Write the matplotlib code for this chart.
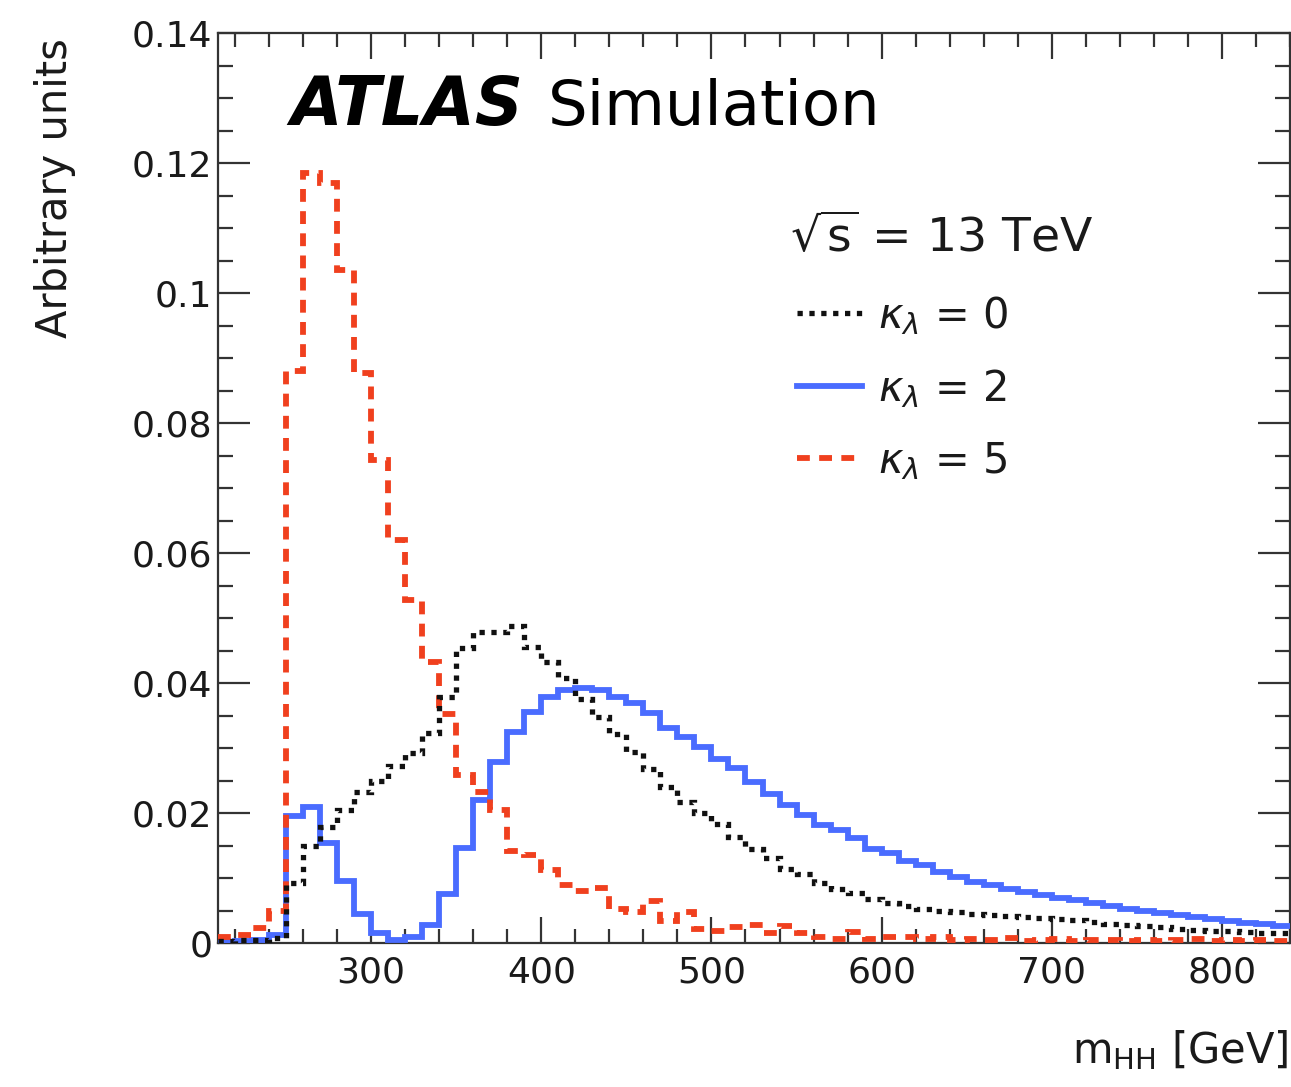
import numpy as np
import matplotlib
matplotlib.use("Agg")
import matplotlib.pyplot as plt
from matplotlib.lines import Line2D
from matplotlib.ticker import MultipleLocator, FuncFormatter

plt.rcParams['font.family'] = ['DejaVu Sans']
plt.rcParams['mathtext.fontset'] = 'dejavusans'

# ---- data: m_HH histograms, 10 GeV bins from 210 to 840 GeV ----
bin_edges = np.arange(210, 850, 10)

kappa0 = [0.0003, 0.0004, 0.0005, 0.0008,
          0.0092, 0.0150, 0.0179, 0.0205, 0.0232, 0.0250, 0.0272, 0.0292, 0.0323, 0.0379,
          0.0454, 0.0479, 0.0479, 0.0487, 0.0456, 0.0433, 0.0408, 0.0376, 0.0347, 0.0322,
          0.0294, 0.0267, 0.0240, 0.0217, 0.0200,
          0.0183, 0.0163, 0.0145, 0.0131, 0.0114, 0.0106, 0.0093, 0.0083, 0.0077, 0.0068,
          0.0062, 0.0057, 0.0052, 0.0049, 0.0047,
          0.0045, 0.0043, 0.0042, 0.0040, 0.0039, 0.0037, 0.0035, 0.0032, 0.0030, 0.0028,
          0.0026, 0.0024, 0.0022, 0.0020, 0.0019, 0.0018, 0.0017, 0.0016, 0.0015]

kappa2 = [0.0002, 0.0003, 0.0005, 0.0012,
          0.0195, 0.0210, 0.0154, 0.0095, 0.0045, 0.0016, 0.0004, 0.0009, 0.0027, 0.0075,
          0.0146, 0.0220, 0.0279, 0.0325, 0.0356, 0.0379, 0.0389, 0.0392, 0.0389, 0.0379,
          0.0369, 0.0354, 0.0331, 0.0317, 0.0302,
          0.0283, 0.0269, 0.0247, 0.0229, 0.0212, 0.0197, 0.0182, 0.0174, 0.0161, 0.0144,
          0.0138, 0.0126, 0.0120, 0.0109, 0.0101,
          0.0094, 0.0089, 0.0083, 0.0078, 0.0074, 0.0070, 0.0066, 0.0061, 0.0057, 0.0053,
          0.0049, 0.0046, 0.0043, 0.0040, 0.0037, 0.0034, 0.0031, 0.0029, 0.0026]

kappa5 = [0.0009, 0.0012, 0.0023, 0.0050,
          0.0880, 0.1185, 0.1170, 0.1035, 0.0877, 0.0743, 0.0620, 0.0528, 0.0433, 0.0352,
          0.0258, 0.0233, 0.0205, 0.0142, 0.0135, 0.0112, 0.0090, 0.0080, 0.0085, 0.0052,
          0.0048, 0.0064, 0.0034, 0.0048, 0.0022,
          0.0018, 0.0025, 0.0027, 0.0016, 0.0026, 0.0015, 0.0010, 0.0006, 0.0017, 0.0006,
          0.0010, 0.0010, 0.0006, 0.0010, 0.0004,
          0.0006, 0.0004, 0.0007, 0.0003, 0.0005, 0.0006, 0.0003, 0.0005, 0.0004, 0.0003,
          0.0005, 0.0003, 0.0004, 0.0006, 0.0003, 0.0004, 0.0003, 0.0005, 0.0003]

series_labels = [r'$\kappa_{\lambda}$ = 0', r'$\kappa_{\lambda}$ = 2', r'$\kappa_{\lambda}$ = 5']

# ---- styles ----
BLACK = '#111111'
BLUE = '#4a6cff'
RED = '#f0401e'
dot_style = (0, (1.0, 1.25))
dash_style = (0, (2.2, 1.6))

W, H = 1291, 1087
fig = plt.figure(figsize=(W / 100, H / 100), dpi=100)
ax = fig.add_axes([218 / W, 1 - 943 / H, (1290 - 218) / W, (943 - 33) / H])

ax.stairs(kappa2, bin_edges, baseline=None, color=BLUE, lw=4.2, zorder=3)
ax.stairs(kappa5, bin_edges, baseline=None, color=RED, lw=4.2, linestyle=dash_style, zorder=4)
ax.stairs(kappa0, bin_edges, baseline=None, color=BLACK, lw=3.8, linestyle=dot_style, zorder=5)

ax.set_xlim(210, 840)
ax.set_ylim(0, 0.14)

ax.xaxis.set_major_locator(MultipleLocator(100))
ax.xaxis.set_minor_locator(MultipleLocator(20))
ax.yaxis.set_major_locator(MultipleLocator(0.02))
ax.yaxis.set_minor_locator(MultipleLocator(0.005))
ax.yaxis.set_major_formatter(FuncFormatter(lambda v, p: '%g' % round(v, 4)))

spine_col = '#333333'
for s in ax.spines.values():
    s.set_color(spine_col)
    s.set_linewidth(1.6)

ax.tick_params(axis='both', which='both', direction='in', top=True, right=True,
               colors=spine_col, labelcolor='#1a1a1a', width=1.6)
ax.tick_params(axis='x', which='major', length=19, labelsize=26, pad=9)
ax.tick_params(axis='x', which='minor', length=10)
ax.tick_params(axis='y', which='major', length=23, labelsize=26, pad=4)
ax.tick_params(axis='y', which='minor', length=11)

# axis titles
fig.text(55 / W, 1 - 188 / H, 'Arbitrary units', rotation=90, ha='center', va='center',
         fontsize=30, color='#1a1a1a')
fig.text(1288 / W, 1 - 1050 / H, r'm$_{\mathrm{HH}}$ [GeV]', ha='right', va='center',
         fontsize=30, color='#1a1a1a')

# ATLAS label
ax.text((290 - 218) / 1072, (943 - 125) / 910, 'ATLAS', transform=ax.transAxes,
        fontsize=48, fontweight='bold', style='italic', ha='left', va='baseline', color='black')
ax.text((548 - 218) / 1072, (943 - 125) / 910, 'Simulation', transform=ax.transAxes,
        fontsize=45, ha='left', va='baseline', color='black')

ax.text((790 - 218) / 1072, (943 - 252) / 910, r'$\sqrt{\mathrm{s}}$ = 13 TeV',
        transform=ax.transAxes, fontsize=34, ha='left', va='baseline', color='#1a1a1a')

handles = [Line2D([], [], color=BLACK, lw=3.8, linestyle=dot_style),
           Line2D([], [], color=BLUE, lw=4.2),
           Line2D([], [], color=RED, lw=4.2, linestyle=dash_style)]
leg = ax.legend(handles, series_labels, loc='upper left',
                bbox_to_anchor=((797 - 218) / 1072, (943 - 294) / 910),
                frameon=False, fontsize=30, handlelength=1.55, handletextpad=0.4,
                labelspacing=0.72, borderpad=0, borderaxespad=0)
for t in leg.get_texts():
    t.set_color('#1a1a1a')

fig.savefig('out.png', dpi=100)
